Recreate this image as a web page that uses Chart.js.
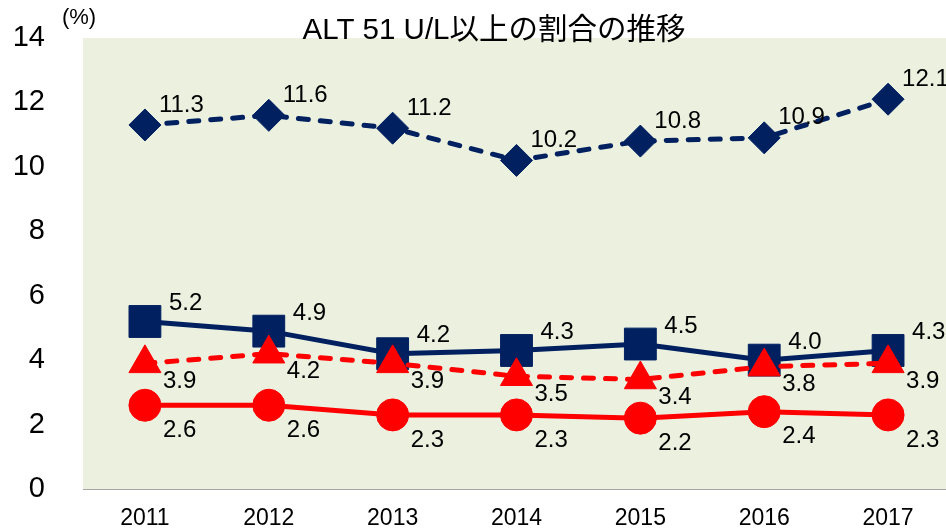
<!DOCTYPE html>
<html>
<head>
<meta charset="utf-8">
<script src="https://cdn.jsdelivr.net/npm/chart.js@4"></script>
<style>
  html, body { margin: 0; padding: 0; background: #fff; overflow: hidden; }
  #wrap { width: 960px; height: 530px; }
</style>
</head>
<body>
<div id="wrap"><canvas id="alt-chart"></canvas></div>
<script>
const years = ['2011', '2012', '2013', '2014', '2015', '2016', '2017'];
const diamondVals = [11.3, 11.6, 11.2, 10.2, 10.8, 10.9, 12.1];
const squareVals = [5.2, 4.9, 4.2, 4.3, 4.5, 4.0, 4.3];
const triangleVals = [3.9, 4.2, 3.9, 3.5, 3.4, 3.8, 3.9];
const circleVals = [2.6, 2.6, 2.3, 2.3, 2.2, 2.4, 2.3];
const yTicks = [0, 2, 4, 6, 8, 10, 12, 14];

const titleText = 'ALT 51 U/L以上の割合の推移';
const unitText = '(%)';

const NAVY = '#002060';
const RED = '#FF0000';
const FONT = '"Liberation Sans", Arial, sans-serif';
const Y_LABEL_GAP = 38;

// where each series puts its value label, relative to the point
const labelOffsets = [
  { dx: 14, dy: -20 },
  { dx: 24, dy: -18 },
  { dx: 18, dy: 18 },
  { dx: 18, dy: 25 }
];

const plotBg = {
  id: 'plotBg',
  beforeDatasetsDraw(chart) {
    const { ctx, chartArea: a } = chart;
    ctx.save();
    ctx.fillStyle = '#EBF0DF';
    ctx.fillRect(a.left, a.top, a.right - a.left, a.bottom - a.top);
    ctx.restore();
  }
};

const valueLabels = {
  id: 'valueLabels',
  afterDatasetsDraw(chart) {
    const ctx = chart.ctx;
    ctx.save();
    ctx.font = '24px ' + FONT;
    ctx.fillStyle = '#000';
    ctx.textAlign = 'left';
    ctx.textBaseline = 'middle';
    chart.data.datasets.forEach((ds, i) => {
      const meta = chart.getDatasetMeta(i);
      const off = labelOffsets[i];
      meta.data.forEach((pt, j) => {
        ctx.fillText(ds.data[j].toFixed(1), pt.x + off.dx, pt.y + off.dy);
      });
    });
    ctx.restore();
  }
};

const titles = {
  id: 'titles',
  afterDraw(chart) {
    const ctx = chart.ctx;
    ctx.save();
    ctx.fillStyle = '#000';
    ctx.textBaseline = 'middle';
    ctx.textAlign = 'center';
    ctx.font = '29.5px "Liberation Sans", "Noto Sans CJK JP", sans-serif';
    ctx.fillText(titleText, 494, 31);
    ctx.font = '22px ' + FONT;
    ctx.fillText(unitText, 79, 18);
    ctx.restore();
  }
};

const ctx = document.getElementById('alt-chart');

new Chart(ctx, {
  type: 'line',
  data: {
    labels: years,
    datasets: [
      {
        data: diamondVals,
        borderColor: NAVY,
        backgroundColor: NAVY,
        borderWidth: 5,
        borderDash: [10, 12],
        borderCapStyle: 'round',
        pointStyle: 'rectRot',
        pointRadius: 16,
        pointBorderWidth: 1,
        order: 3
      },
      {
        data: squareVals,
        borderColor: NAVY,
        backgroundColor: NAVY,
        borderWidth: 5,
        pointStyle: 'rect',
        pointRadius: 22.5,
        pointBorderWidth: 1,
        order: 2
      },
      {
        data: triangleVals,
        borderColor: RED,
        backgroundColor: RED,
        borderWidth: 5,
        borderDash: [10, 12],
        borderCapStyle: 'round',
        pointStyle: 'triangle',
        pointRadius: 18.5,
        pointBorderWidth: 1,
        order: 0
      },
      {
        data: circleVals,
        borderColor: RED,
        backgroundColor: RED,
        borderWidth: 5,
        pointStyle: 'circle',
        pointRadius: 16,
        pointBorderWidth: 1,
        order: 1
      }
    ]
  },
  options: {
    responsive: true,
    maintainAspectRatio: false,
    animation: false,
    layout: { autoPadding: false, padding: { top: 38, right: 10, left: 0, bottom: 0 } },
    plugins: {
      legend: { display: false },
      title: { display: false },
      tooltip: { enabled: false }
    },
    elements: { line: { tension: 0 } },
    scales: {
      x: {
        offset: true,
        afterFit(scale) {
          scale.height = 41;
        },
        grid: { display: false, drawTicks: false },
        border: { display: true, color: '#A6A6A6', width: 1 },
        ticks: {
          color: '#000',
          padding: 16,
          font: { size: 23, family: FONT }
        }
      },
      y: {
        min: 0,
        max: 14,
        afterBuildTicks(scale) {
          scale.ticks = yTicks.map(v => ({ value: v }));
        },
        afterFit(scale) {
          // keep the wide label gap from pushing the plot down
          scale.width = 83;
          scale.paddingTop -= Y_LABEL_GAP;
          scale.paddingBottom -= Y_LABEL_GAP;
        },
        grid: { display: false, drawTicks: false },
        border: { display: true, color: '#A6A6A6', width: 1 },
        ticks: {
          color: '#000',
          padding: Y_LABEL_GAP,
          font: { size: 29, family: FONT }
        }
      }
    }
  },
  plugins: [plotBg, valueLabels, titles]
});
</script>
</body>
</html>
